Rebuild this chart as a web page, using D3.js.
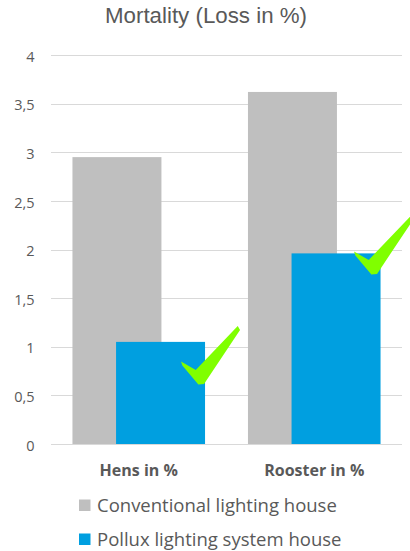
<!DOCTYPE html>
<html>
<head>
<meta charset="utf-8">
<script src="https://cdn.jsdelivr.net/npm/d3@7"></script>
<style>
  html, body { margin: 0; padding: 0; background: #ffffff; }
  svg { display: block; }
</style>
</head>
<body>
<svg id="chart" width="410" height="551"></svg>
<script>
// ---- Data ----
const title = "Mortality (Loss in %)";
const categories = ["Hens in %", "Rooster in %"];
const seriesNames = ["Conventional lighting house", "Pollux lighting system house"];
const conventional = [2.95, 3.62];
const pollux = [1.05, 1.96];
const yTicks = [0, 0.5, 1, 1.5, 2, 2.5, 3, 3.5, 4];
const yTickLabels = ["0", "0,5", "1", "1,5", "2", "2,5", "3", "3,5", "4"];
const seriesColors = ["#BFBFBF", "#009FE0"];
const checkColor = "#80FF00";

// ---- Layout ----
const W = 410, H = 551;
const plot = { left: 51, right: 402, top: 55, bottom: 444 };
const textColor = "#595959";
const gridColor = "#D9D9D9";

const svg = d3.select("#chart");

const x = d3.scaleBand().domain(categories).range([plot.left, plot.right]).paddingInner(0).paddingOuter(0);
const y = d3.scaleLinear().domain([0, 4]).range([plot.bottom, plot.top]);

// Title
svg.append("text")
  .attr("x", 206)
  .attr("y", 23)
  .attr("text-anchor", "middle")
  .attr("font-family", "'Liberation Sans', Arial, sans-serif")
  .attr("font-size", 22.3)
  .attr("fill", textColor)
  .text(title);

// Gridlines
svg.append("g").selectAll("line")
  .data(yTicks)
  .join("line")
  .attr("x1", plot.left).attr("x2", plot.right)
  .attr("y1", d => Math.round(y(d)) + 0.5).attr("y2", d => Math.round(y(d)) + 0.5)
  .attr("stroke", gridColor)
  .attr("stroke-width", 1);

// Y axis labels (via d3 axis)
const yAxis = d3.axisLeft(y)
  .tickValues(yTicks)
  .tickSize(0)
  .tickPadding(0)
  .tickFormat((d, i) => yTickLabels[i]);
const yg = svg.append("g").attr("transform", `translate(${34.5},1.5)`).call(yAxis);
yg.select(".domain").remove();
yg.selectAll("text")
  .attr("font-family", "'Open Sans', sans-serif")
  .attr("font-size", 14.5)
  .attr("fill", textColor);

// Bars
const bw = x.bandwidth();
const barW = bw * 0.507;
const step = barW * 0.49;
const groupW = barW + step;
const seriesData = [conventional, pollux];

function barX(cat, si) {
  const c = x(cat) + bw / 2;
  return c - groupW / 2 + si * step;
}

seriesData.forEach((vals, si) => {
  svg.append("g").selectAll("rect")
    .data(categories.map((c, i) => ({ c, v: vals[i] })))
    .join("rect")
    .attr("x", d => barX(d.c, si))
    .attr("width", barW)
    .attr("y", d => y(d.v))
    .attr("height", d => y(0) - y(d.v))
    .attr("fill", seriesColors[si]);
});

// X axis labels
const xAxis = d3.axisBottom(x).tickSize(0).tickPadding(0);
const xg = svg.append("g").attr("transform", `translate(0,${plot.bottom})`).call(xAxis);
xg.select(".domain").remove();
xg.selectAll("text")
  .attr("dy", null)
  .attr("y", 32)
  .attr("font-family", "'Open Sans', sans-serif")
  .attr("font-weight", "bold")
  .attr("font-size", 16)
  .attr("fill", textColor);

// Check marks (decoration anchored to the Pollux bars)
const checkPath = "M0,35.7 L14.7,44 L56.7,0 L59,4 L23,58 L17.3,58.5 L1.3,39.7 Z";
const checkOffsets = [{ dx: -24, dy: -16 }, { dx: -26.5, dy: -37.5 }];
svg.append("g").selectAll("path")
  .data(categories.map((c, i) => ({ c, v: pollux[i], o: checkOffsets[i] })))
  .join("path")
  .attr("d", checkPath)
  .attr("transform", d => `translate(${barX(d.c, 1) + barW + d.o.dx},${y(d.v) + d.o.dy})`)
  .attr("fill", checkColor);

// Legend
const legend = svg.append("g").attr("transform", "translate(79,499.5)");
const li = legend.selectAll("g")
  .data(seriesNames)
  .join("g")
  .attr("transform", (d, i) => `translate(0,${i * 34})`);
li.append("rect").attr("width", 11.5).attr("height", 11.5).attr("fill", (d, i) => seriesColors[i]);
li.append("text")
  .attr("x", 18)
  .attr("y", 12)
  .attr("font-family", "'Open Sans', sans-serif")
  .attr("font-size", 18.5)
  .attr("fill", textColor)
  .text(d => d);
</script>
</body>
</html>
